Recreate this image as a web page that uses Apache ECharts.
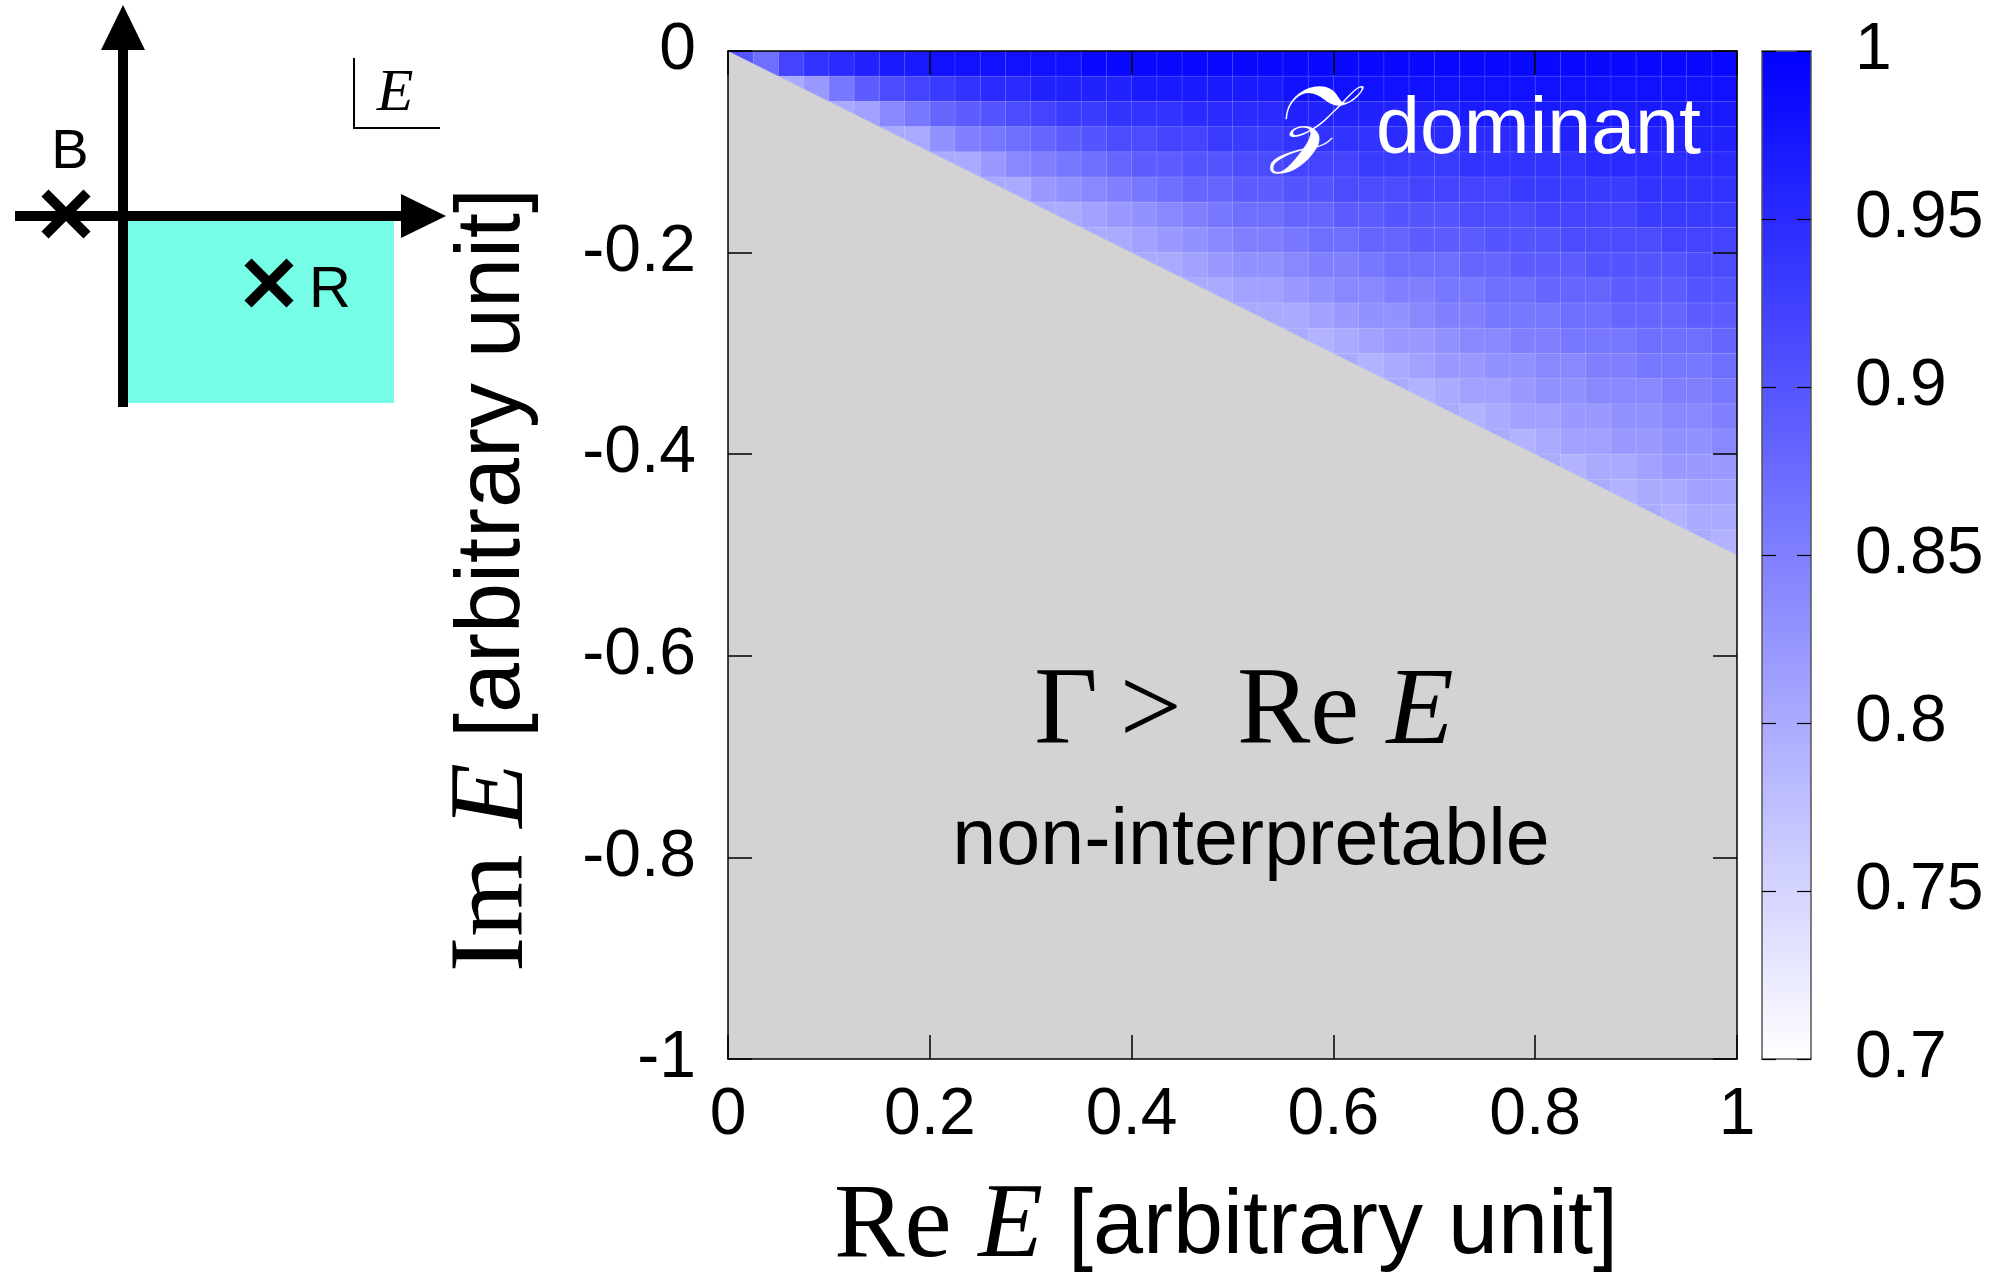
<!DOCTYPE html>
<html>
<head>
<meta charset="utf-8">
<title>Z dominant region</title>
<script src="https://cdn.jsdelivr.net/npm/echarts@6/dist/echarts.min.js"></script>
<style>
  html, body { margin: 0; padding: 0; background: #fff; }
  #chart { width: 1995px; height: 1272px; }
</style>
</head>
<body>
<div id="chart"></div>
<script>
// axis ticks
const reTicks = [0, 0.2, 0.4, 0.6, 0.8, 1]
const imTicks = [-1, -0.8, -0.6, -0.4, -0.2, 0]
const shareTicks = [0.7, 0.75, 0.8, 0.85, 0.9, 0.95, 1]

// cell step of the read-off grid (Re and Im)
const step = 0.025

// share of Z, read row by row from Im = 0 downwards;
// row j starts at column 2j (first cell touching Gamma = Re E)
const shareRows = [
  [0.90, 0.87, 0.92, 0.94, 0.95, 0.96, 0.97, 0.97, 0.98, 0.98, 0.98, 0.98, 0.98, 0.98, 0.99, 0.99, 0.99, 0.99, 0.99, 0.99,
   0.99, 0.99, 0.99, 0.99, 0.99, 0.99, 0.99, 0.99, 0.99, 0.99, 0.99, 0.99, 0.99, 0.99, 0.99, 0.99, 0.99, 0.99, 0.99, 0.99],
  [0.80, 0.82, 0.86, 0.89, 0.91, 0.92, 0.93, 0.94, 0.95, 0.95, 0.96, 0.96, 0.96, 0.96, 0.97, 0.97, 0.97, 0.97, 0.97, 0.97,
   0.98, 0.98, 0.98, 0.98, 0.98, 0.98, 0.98, 0.98, 0.98, 0.98, 0.98, 0.98, 0.98, 0.98, 0.98, 0.98, 0.98, 0.98],
  [0.80, 0.81, 0.84, 0.86, 0.88, 0.89, 0.90, 0.91, 0.92, 0.93, 0.93, 0.94, 0.94, 0.94, 0.95, 0.95, 0.95, 0.95, 0.96, 0.96,
   0.96, 0.96, 0.96, 0.96, 0.96, 0.97, 0.97, 0.97, 0.97, 0.97, 0.97, 0.97, 0.97, 0.97, 0.97, 0.97],
  [0.80, 0.80, 0.83, 0.85, 0.86, 0.87, 0.88, 0.89, 0.90, 0.91, 0.91, 0.92, 0.92, 0.93, 0.93, 0.93, 0.94, 0.94, 0.94, 0.94,
   0.95, 0.95, 0.95, 0.95, 0.95, 0.95, 0.96, 0.96, 0.96, 0.96, 0.96, 0.96, 0.96, 0.96],
  [0.80, 0.80, 0.82, 0.84, 0.85, 0.86, 0.87, 0.88, 0.89, 0.89, 0.90, 0.90, 0.91, 0.91, 0.92, 0.92, 0.92, 0.93, 0.93, 0.93,
   0.93, 0.94, 0.94, 0.94, 0.94, 0.94, 0.95, 0.95, 0.95, 0.95, 0.95, 0.95],
  [0.80, 0.80, 0.82, 0.83, 0.84, 0.85, 0.86, 0.87, 0.88, 0.88, 0.89, 0.89, 0.90, 0.90, 0.91, 0.91, 0.91, 0.92, 0.92, 0.92,
   0.92, 0.93, 0.93, 0.93, 0.93, 0.93, 0.94, 0.94, 0.94, 0.94],
  [0.80, 0.80, 0.81, 0.82, 0.83, 0.84, 0.85, 0.86, 0.87, 0.87, 0.88, 0.88, 0.89, 0.89, 0.90, 0.90, 0.90, 0.91, 0.91, 0.91,
   0.92, 0.92, 0.92, 0.92, 0.93, 0.93, 0.93, 0.93],
  [0.80, 0.80, 0.81, 0.82, 0.83, 0.84, 0.85, 0.85, 0.86, 0.87, 0.87, 0.88, 0.88, 0.89, 0.89, 0.89, 0.90, 0.90, 0.90, 0.91,
   0.91, 0.91, 0.91, 0.92, 0.92, 0.92],
  [0.80, 0.80, 0.81, 0.82, 0.83, 0.83, 0.84, 0.85, 0.85, 0.86, 0.87, 0.87, 0.87, 0.88, 0.88, 0.89, 0.89, 0.89, 0.90, 0.90,
   0.90, 0.90, 0.91, 0.91],
  [0.80, 0.80, 0.81, 0.81, 0.82, 0.83, 0.84, 0.84, 0.85, 0.85, 0.86, 0.86, 0.87, 0.87, 0.88, 0.88, 0.88, 0.89, 0.89, 0.89,
   0.90, 0.90],
  [0.80, 0.80, 0.80, 0.81, 0.82, 0.83, 0.83, 0.84, 0.85, 0.85, 0.86, 0.86, 0.86, 0.87, 0.87, 0.88, 0.88, 0.88, 0.89, 0.89],
  [0.80, 0.79, 0.80, 0.81, 0.82, 0.82, 0.83, 0.84, 0.84, 0.85, 0.85, 0.86, 0.86, 0.86, 0.87, 0.87, 0.87, 0.88],
  [0.80, 0.79, 0.80, 0.81, 0.82, 0.82, 0.83, 0.83, 0.84, 0.84, 0.85, 0.85, 0.86, 0.86, 0.86, 0.87],
  [0.80, 0.79, 0.80, 0.81, 0.81, 0.82, 0.83, 0.83, 0.84, 0.84, 0.84, 0.85, 0.85, 0.86],
  [0.80, 0.79, 0.80, 0.81, 0.81, 0.82, 0.82, 0.83, 0.83, 0.84, 0.84, 0.85],
  [0.80, 0.79, 0.80, 0.81, 0.81, 0.82, 0.82, 0.83, 0.83, 0.84],
  [0.80, 0.79, 0.80, 0.80, 0.81, 0.82, 0.82, 0.82],
  [0.80, 0.79, 0.80, 0.80, 0.81, 0.81],
  [0.80, 0.79, 0.80, 0.80],
  [0.80, 0.79]
]

// Gamma = Re E boundary (below it: non-interpretable)
const boundaryRe = [0, 1]
const boundaryIm = [0, -0.5]

const sans = '"Liberation Sans", Arial, Helvetica, sans-serif'
const serif = '"Liberation Serif", "Times New Roman", serif'

const cells = []
shareRows.forEach((row, j) => {
  row.forEach((v, k) => {
    const i = 2 * j + k
    cells.push([(i + 0.5) * step, -(j + 0.5) * step, v])
  })
})
const boundary = boundaryRe.map((x, i) => [x, boundaryIm[i]])

function renderCell(params, api) {
  const p = api.coord([api.value(0) - step / 2, api.value(1) + step / 2])
  const s = api.size([step, step])
  return {
    type: 'rect',
    shape: { x: p[0], y: p[1], width: s[0] + 0.3, height: s[1] + 0.3 },
    style: { fill: api.visual('color'), stroke: 'rgba(255,255,255,0.13)', lineWidth: 1 }
  }
}

const tickFont = { fontSize: 66, fontFamily: sans, color: '#000' }

function frameAxis(extra) {
  return Object.assign({
    type: 'value',
    z: 10,
    splitLine: { show: false },
    axisLine: { show: true, onZero: false, lineStyle: { color: '#000', width: 1.5 } },
    axisTick: { show: true, inside: true, length: 24, lineStyle: { color: '#000', width: 1.5 } },
    axisLabel: Object.assign({ show: false }, tickFont)
  }, extra)
}

function barAxis(extra) {
  return Object.assign({
    type: 'value',
    gridIndex: 1,
    z: 10,
    splitLine: { show: false },
    axisLine: { show: true, onZero: false, lineStyle: { color: '#555', width: 1.5 } },
    axisTick: { show: false },
    axisLabel: { show: false }
  }, extra)
}

const chart = echarts.init(document.getElementById('chart'))
chart.setOption({
  backgroundColor: '#fff',
  animation: false,
  grid: [
    { left: 728, top: 51, width: 1009, height: 1008, show: true, backgroundColor: '#d3d3d3', borderWidth: 0 },
    { left: 1762, top: 51, width: 49, height: 1008 }
  ],
  xAxis: [
    frameAxis({
      gridIndex: 0, position: 'bottom',
      min: reTicks[0], max: reTicks[reTicks.length - 1], interval: reTicks[1] - reTicks[0],
      axisLabel: Object.assign({ show: true, margin: 24 }, tickFont)
    }),
    frameAxis({
      gridIndex: 0, position: 'top',
      min: reTicks[0], max: reTicks[reTicks.length - 1], interval: reTicks[1] - reTicks[0]
    }),
    barAxis({ position: 'bottom', min: 0, max: 1 }),
    barAxis({ position: 'top', min: 0, max: 1 })
  ],
  yAxis: [
    frameAxis({
      gridIndex: 0, position: 'left',
      min: imTicks[0], max: imTicks[imTicks.length - 1], interval: 0.2,
      axisLabel: Object.assign({ show: true, margin: 32 }, tickFont)
    }),
    frameAxis({
      gridIndex: 0, position: 'right',
      min: imTicks[0], max: imTicks[imTicks.length - 1], interval: 0.2
    }),
    barAxis({
      position: 'right',
      min: shareTicks[0], max: shareTicks[shareTicks.length - 1], interval: 0.05,
      axisTick: { show: true, inside: true, length: 14, lineStyle: { color: '#000', width: 1.2 } },
      axisLabel: Object.assign({ show: true, margin: 44 }, tickFont)
    }),
    barAxis({
      position: 'left',
      min: shareTicks[0], max: shareTicks[shareTicks.length - 1], interval: 0.05,
      axisTick: { show: true, inside: true, length: 14, lineStyle: { color: '#000', width: 1.2 } }
    })
  ],
  visualMap: {
    type: 'continuous',
    min: shareTicks[0],
    max: shareTicks[shareTicks.length - 1],
    dimension: 2,
    seriesIndex: 0,
    inRange: { color: ['#ffffff', '#0000ff'] },
    orient: 'vertical',
    left: 1762,
    top: 51,
    padding: 0,
    itemWidth: 49,
    itemHeight: 1008,
    calculable: false,
    hoverLink: false,
    text: null
  },
  series: [
    {
      type: 'custom',
      xAxisIndex: 0,
      yAxisIndex: 0,
      renderItem: renderCell,
      encode: { x: 0, y: 1 },
      data: cells,
      silent: true,
      z: 2
    },
    {
      type: 'line',
      xAxisIndex: 0,
      yAxisIndex: 0,
      data: boundary,
      symbol: 'none',
      lineStyle: { width: 0 },
      areaStyle: { color: '#d3d3d3', opacity: 1, origin: 'start' },
      silent: true,
      z: 3
    }
  ],
  graphic: [
    // inset: complex E plane
    { type: 'rect', shape: { x: 123, y: 216, width: 271, height: 187 }, style: { fill: '#76fde6' } },
    { type: 'line', shape: { x1: 123, y1: 407, x2: 123, y2: 40 }, style: { stroke: '#000', lineWidth: 10 } },
    { type: 'polygon', shape: { points: [[101, 50], [145, 50], [123, 5]] }, style: { fill: '#000' } },
    { type: 'line', shape: { x1: 15, y1: 216, x2: 410, y2: 216 }, style: { stroke: '#000', lineWidth: 10 } },
    { type: 'polygon', shape: { points: [[401, 194], [401, 238], [446, 216]] }, style: { fill: '#000' } },
    { type: 'line', shape: { x1: 45, y1: 193, x2: 87, y2: 235 }, style: { stroke: '#000', lineWidth: 10 } },
    { type: 'line', shape: { x1: 45, y1: 235, x2: 87, y2: 193 }, style: { stroke: '#000', lineWidth: 10 } },
    { type: 'line', shape: { x1: 248, y1: 262, x2: 290, y2: 304 }, style: { stroke: '#000', lineWidth: 10 } },
    { type: 'line', shape: { x1: 248, y1: 304, x2: 290, y2: 262 }, style: { stroke: '#000', lineWidth: 10 } },
    { type: 'text', x: 70, y: 153, style: { text: 'B', font: '56px ' + sans, fill: '#000', align: 'center', verticalAlign: 'middle' } },
    { type: 'text', x: 330, y: 291, style: { text: 'R', font: '58px ' + sans, fill: '#000', align: 'center', verticalAlign: 'middle' } },
    { type: 'line', shape: { x1: 354, y1: 58, x2: 354, y2: 128 }, style: { stroke: '#000', lineWidth: 2 } },
    { type: 'line', shape: { x1: 353, y1: 128, x2: 440, y2: 128 }, style: { stroke: '#000', lineWidth: 2 } },
    { type: 'text', x: 395, y: 94, style: { text: 'E', font: 'italic 60px ' + serif, fill: '#000', align: 'center', verticalAlign: 'middle' } },

    // labels inside the plot
    { type: 'text', x: 1306, y: 128, z: 20, style: { text: '𝒵', font: 'italic 96px "DejaVu Serif", serif', fill: '#fff', align: 'center', verticalAlign: 'middle' } },
    { type: 'text', x: 1376, y: 131, z: 20, style: { text: 'dominant', font: '79px ' + sans, fill: '#fff', align: 'left', verticalAlign: 'middle' } },
    {
      type: 'text', x: 1244, y: 714, z: 20,
      style: {
        text: '{rm|Γ\u2009>\u2002Re }{it|E}', align: 'center', verticalAlign: 'middle',
        rich: {
          rm: { fontFamily: serif, fontSize: 110, fill: '#000' },
          it: { fontFamily: serif, fontSize: 110, fontStyle: 'italic', fill: '#000' }
        }
      }
    },
    { type: 'text', x: 1251, y: 842, z: 20, style: { text: 'non-interpretable', font: '79px ' + sans, fill: '#000', align: 'center', verticalAlign: 'middle' } },

    // axis titles
    {
      type: 'text', x: 1226, y: 1228,
      style: {
        text: '{rm|Re }{it|E}{sf| [arbitrary unit]}', align: 'center', verticalAlign: 'middle',
        rich: {
          rm: { fontFamily: serif, fontSize: 106, fill: '#000' },
          it: { fontFamily: serif, fontSize: 106, fontStyle: 'italic', fill: '#000' },
          sf: { fontFamily: sans, fontSize: 90, fill: '#000' }
        }
      }
    },
    {
      type: 'text', x: 494, y: 580, rotation: Math.PI / 2,
      style: {
        text: '{rm|Im }{it|E}{sf| [arbitrary unit]}', align: 'center', verticalAlign: 'middle',
        rich: {
          rm: { fontFamily: serif, fontSize: 106, fill: '#000' },
          it: { fontFamily: serif, fontSize: 106, fontStyle: 'italic', fill: '#000' },
          sf: { fontFamily: sans, fontSize: 90, fill: '#000' }
        }
      }
    }
  ]
})
</script>
</body>
</html>
